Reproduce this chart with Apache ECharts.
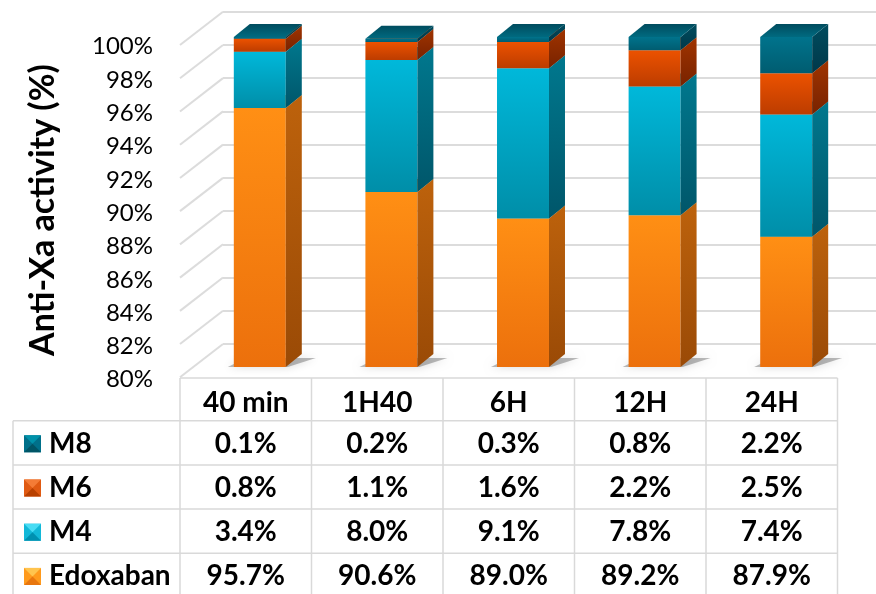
<!DOCTYPE html>
<html>
<head>
<meta charset="utf-8">
<script src="https://cdn.jsdelivr.net/npm/echarts@6/dist/echarts.min.js"></script>
<style>html,body{margin:0;padding:0;background:#fff}#chart{width:876px;height:594px}</style>
</head>
<body>
<div id="chart"></div>
<script>
// data
var categories = ['40 min', '1H40', '6H', '12H', '24H'];
var edoxaban = [95.7, 90.6, 89.0, 89.2, 87.9];
var m4 = [3.4, 8.0, 9.1, 7.8, 7.4];
var m6 = [0.8, 1.1, 1.6, 2.2, 2.5];
var m8 = [0.1, 0.2, 0.3, 0.8, 2.2];
var yTicks = [80, 82, 84, 86, 88, 90, 92, 94, 96, 98, 100];

var FONT = 'Lato';
var DX = 16, DY = -13;   // bar depth

function vgrad(a, b) {
    return new echarts.graphic.LinearGradient(0, 0, 0, 1, [{offset: 0, color: a}, {offset: 1, color: b}]);
}

// colours for each segment
var looks = {
    'Edoxaban': {front: ['#ff8f14', '#ec700c'], side: ['#bd620c', '#9a4a06'], top: ['#ffa040', '#e88020'],
                 icon: ['#ffc44e', '#ff9a1c', '#e8760e']},
    'M4': {front: ['#00b8da', '#008ea8'], side: ['#00788e', '#00566a'], top: ['#30c8e8', '#00a0c0'],
           icon: ['#48dcf4', '#12b8d8', '#0090b0']},
    'M6': {front: ['#ec5200', '#bc3c00'], side: ['#a03400', '#782200'], top: ['#f07030', '#d05010'],
           icon: ['#f47c36', '#e05a12', '#b84000']},
    'M8': {front: ['#00738c', '#005c70'], side: ['#004c5e', '#00384a'], top: ['#006a80', '#004c5e'],
           icon: ['#0092aa', '#00708a', '#005566']}
};

// stacking bottom -> top
var stackOrder = [['Edoxaban', edoxaban], ['M4', m4], ['M6', m6], ['M8', m8]];
var base = categories.map(function () { return 0; });
var barSeries = stackOrder.map(function (s, k) {
    var data = s[1].map(function (v, i) {
        var lo = k === 0 ? 80 : base[i];
        var hi = (k === 0 ? 0 : base[i]) + v;
        base[i] = hi;
        return [i, lo, hi];
    });
    var lk = looks[s[0]];
    return {
        name: s[0],
        type: 'custom',
        xAxisIndex: 0, yAxisIndex: 0,
        z: 5 + k,
        encode: {x: 0, y: [1, 2]},
        data: data,
        renderItem: function (params, api) {
            var i = api.value(0);
            var pLo = api.coord([i, api.value(1)]);
            var pHi = api.coord([i, api.value(2)]);
            var w = api.size([1, 0])[0] * 0.395;
            var xl = pLo[0] - w / 2, xr = pLo[0] + w / 2, yb = pLo[1], yt = pHi[1];
            var ch = [];
            if (k === 0) {
                ch.push({type: 'polygon', silent: true,
                    shape: {points: [[xl - 6, yb], [xr + 2, yb], [xr + DX + 14, yb + DY + 4], [xl + DX - 4, yb + DY + 4]]},
                    style: {fill: 'rgba(60,60,60,0.35)', shadowBlur: 8, shadowColor: 'rgba(0,0,0,0.45)'}});
            }
            ch.push({type: 'rect', shape: {x: xl, y: yt, width: w, height: yb - yt},
                style: {fill: vgrad(lk.front[0], lk.front[1])}});
            ch.push({type: 'polygon', shape: {points: [[xr, yt], [xr + DX, yt + DY], [xr + DX, yb + DY], [xr, yb]]},
                style: {fill: vgrad(lk.side[0], lk.side[1])}});
            ch.push({type: 'polygon', shape: {points: [[xl, yt], [xr, yt], [xr + DX, yt + DY], [xl + DX, yt + DY]]},
                style: {fill: vgrad(lk.top[1], lk.top[0])}});
            return {type: 'group', children: ch};
        }
    };
});

// back wall diagonals
var wallSeries = {
    type: 'custom',
    xAxisIndex: 1, yAxisIndex: 1,
    z: 1, silent: true,
    data: yTicks.map(function (t) { return [0, t]; }),
    renderItem: function (params, api) {
        var p = api.coord([0, api.value(1)]);
        return {type: 'polyline', shape: {points: [[p[0] - 43, p[1] + 33.3], [p[0], p[1]]]},
            style: {stroke: '#dcdcdc', lineWidth: 2, fill: null}};
    }
};

// data table under the plot
var T = {left: 180, colW: 131.5, legLeft: 13, top: 378, headH: 42.7, rowH: 44.2};
var tableRows = [['M8', m8], ['M6', m6], ['M4', m4], ['Edoxaban', edoxaban]];
var gfx = [];
var lineStyle = {stroke: '#d9d9d9', lineWidth: 1.5};
var cellFont = 'bold 28px ' + FONT;
var tRight = T.left + categories.length * T.colW;
gfx.push({type: 'line', shape: {x1: T.left, y1: T.top, x2: tRight, y2: T.top}, style: lineStyle});
for (var r = 0; r <= tableRows.length; r++) {
    var yy = T.top + T.headH + r * T.rowH;
    gfx.push({type: 'line', shape: {x1: T.legLeft, y1: yy, x2: tRight, y2: yy}, style: lineStyle});
}
gfx.push({type: 'line', shape: {x1: T.legLeft, y1: T.top + T.headH, x2: T.legLeft, y2: 600}, style: lineStyle});
for (var c = 0; c <= categories.length; c++) {
    var xx = T.left + c * T.colW;
    gfx.push({type: 'line', shape: {x1: xx, y1: T.top, x2: xx, y2: 600}, style: lineStyle});
}
categories.forEach(function (cat, c) {
    gfx.push({type: 'text', x: T.left + (c + 0.5) * T.colW, y: T.top + T.headH / 2 + 4,
        style: {text: cat, font: cellFont, fill: '#000', align: 'center', verticalAlign: 'middle'}});
});
tableRows.forEach(function (row, r) {
    var cy = T.top + T.headH + (r + 0.5) * T.rowH + 1;
    var ic = looks[row[0]].icon;
    var ix = 24, s = 17, iy = cy - s / 2;
    gfx.push({type: 'rect', shape: {x: ix, y: iy, width: s, height: s}, style: {fill: ic[1]}});
    gfx.push({type: 'polygon', shape: {points: [[ix, iy], [ix + s, iy], [ix + s / 2, iy + s / 2]]}, style: {fill: ic[0]}});
    gfx.push({type: 'polygon', shape: {points: [[ix, iy + s], [ix + s, iy + s], [ix + s / 2, iy + s / 2]]}, style: {fill: ic[2]}});
    gfx.push({type: 'text', x: 49, y: cy,
        style: {text: row[0], font: cellFont, fill: '#000', align: 'left', verticalAlign: 'middle'}});
    row[1].forEach(function (v, c) {
        gfx.push({type: 'text', x: T.left + (c + 0.5) * T.colW, y: cy,
            style: {text: v.toFixed(1) + '%', font: cellFont, fill: '#000', align: 'center', verticalAlign: 'middle'}});
    });
});
gfx.push({type: 'text', x: 43, y: 210, rotation: Math.PI / 2,
    style: {text: 'Anti-Xa activity (%)', font: 'bold 34px ' + FONT, fill: '#000', align: 'center', verticalAlign: 'middle'}});

var myChart = echarts.init(document.getElementById('chart'), null, {renderer: 'canvas'});
var option = {
    animation: false,
    backgroundColor: '#fff',
    grid: [
        {left: 194, right: 24, top: 37, bottom: 227},          // bars
        {left: 223, right: 0, top: 11.7, bottom: 250},         // back wall
        {left: 180, right: 0, top: 46.7, bottom: 214.3}        // tick labels
    ],
    xAxis: [
        {type: 'category', gridIndex: 0, data: categories, show: false},
        {type: 'value', gridIndex: 1, min: 0, max: 1, show: false},
        {type: 'value', gridIndex: 2, min: 0, max: 1, show: false}
    ],
    yAxis: [
        {type: 'value', gridIndex: 0, min: 80, max: 100, show: false},
        {type: 'value', gridIndex: 1, min: 80, max: 100, interval: 2,
            axisLine: {show: false}, axisTick: {show: false}, axisLabel: {show: false},
            splitLine: {show: true, lineStyle: {color: '#dcdcdc', width: 2}}},
        {type: 'value', gridIndex: 2, min: 80, max: 100, interval: 2,
            axisLine: {show: false}, axisTick: {show: false}, splitLine: {show: false},
            axisLabel: {formatter: '{value}%', margin: 27, color: '#000', fontFamily: FONT, fontSize: 24}}
    ],
    series: [wallSeries].concat(barSeries),
    graphic: gfx
};
myChart.setOption(option);
</script>
</body>
</html>
